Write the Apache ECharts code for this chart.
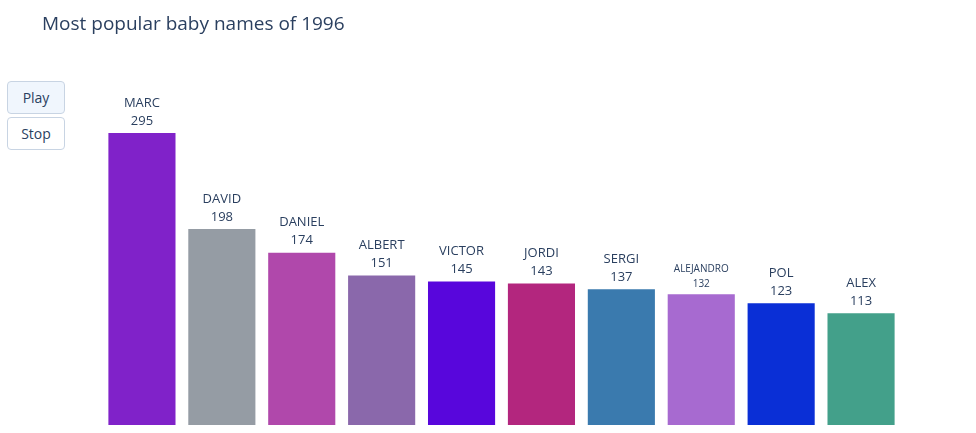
<!DOCTYPE html>
<html><head><meta charset="utf-8">
<script src="https://cdn.jsdelivr.net/npm/echarts@6/dist/echarts.min.js"></script>
<style>
body{margin:0;background:#fff;font-family:"Open Sans",sans-serif}
#c{width:976px;height:433px}
.btn{position:absolute;left:7px;width:58px;height:33px;border:1px solid #c8d4e3;border-radius:4px;background:#fff;color:#2a3f5f;font:14px "Open Sans",sans-serif;display:flex;align-items:center;justify-content:center;box-sizing:border-box}
</style></head><body>
<div id="c"></div>
<div class="btn" style="top:81px;background:#f0f6fd">Play</div>
<div class="btn" style="top:117px">Stop</div>
<script>
const names=["MARC","DAVID","DANIEL","ALBERT","VICTOR","JORDI","SERGI","ALEJANDRO","POL","ALEX"];
const counts=[295,198,174,151,145,143,137,132,123,113];
const colors=["#8022c9","#959ca4","#b048ab","#8a68ab","#5806dc","#b3267e","#3a7aae","#a76ad0","#0a2fd6","#43a08a"];
const chart=echarts.init(document.getElementById('c'));
chart.setOption({
 animation:false,
 title:{text:"Most popular baby names of 1996",left:37,top:10,textStyle:{fontFamily:"Open Sans",fontSize:19,fontWeight:"normal",color:"#2a3f5f"}},
 grid:{left:102,right:75,top:128,bottom:8},
 xAxis:{type:"category",data:names,show:false},
 yAxis:{type:"value",min:0,max:300,show:false},
 series:[{type:"bar",barCategoryGap:"16%",
  data:counts.map((v,i)=>({value:v,itemStyle:{color:colors[i]},label:{fontSize:names[i].length>8?10:13,lineHeight:names[i].length>8?15:18}})),
  label:{show:true,position:"top",distance:3,fontFamily:"Open Sans",color:"#2a3f5f",
   formatter:p=>p.name+"\n"+p.value}}]
});
</script></body></html>
